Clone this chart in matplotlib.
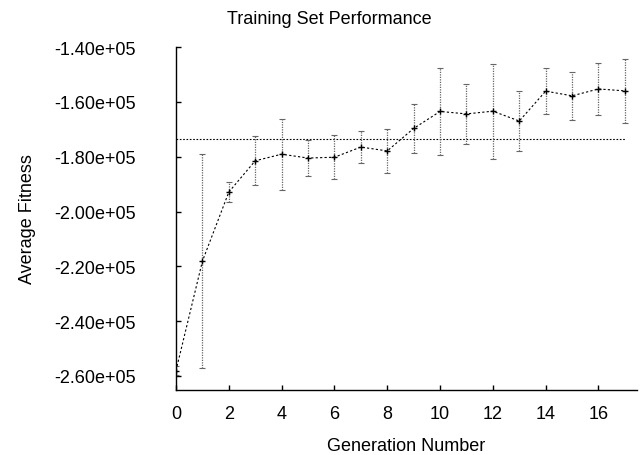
import numpy as np
import matplotlib
matplotlib.use('Agg')
import matplotlib.pyplot as plt
from matplotlib import font_manager
from matplotlib.ticker import FuncFormatter

# pick the regular (not narrow) Liberation Sans file
reg = [f for f in font_manager.findSystemFonts() if f.endswith('LiberationSans-Regular.ttf')]
if reg:
    font_manager.fontManager.addfont(reg[0])
    fam = font_manager.FontProperties(fname=reg[0]).get_name()
else:
    fam = 'DejaVu Sans'
plt.rcParams['font.family'] = [fam, 'DejaVu Sans']
plt.rcParams['axes.unicode_minus'] = False

# data
generation = list(range(18))
avg_fitness = [-2.580e5, -2.181e5, -1.929e5, -1.815e5, -1.791e5, -1.805e5,
               -1.802e5, -1.765e5, -1.779e5, -1.697e5, -1.635e5, -1.644e5,
               -1.634e5, -1.670e5, -1.561e5, -1.578e5, -1.553e5, -1.560e5]
fitness_err = [1500, 39000, 3500, 9000, 13000, 6700, 8000, 5800, 8000, 9000,
               15800, 11000, 17300, 11000, 8500, 8800, 9500, 11800]
baseline = -1.736e5
yticks = [-2.6e5, -2.4e5, -2.2e5, -2.0e5, -1.8e5, -1.6e5, -1.4e5]
xticks = [0, 2, 4, 6, 8, 10, 12, 14, 16]

fs = 13

fig = plt.figure(figsize=(6.41, 4.56), dpi=100)
ax = fig.add_axes([0.2746, 0.1432, 0.7192, 0.7515])

# horizontal reference line
ax.plot([generation[0], generation[-1]], [baseline, baseline], color='black',
        lw=0.8, linestyle=(0, (1.5, 1.5)))

# error bars, dotted grey
eb = ax.errorbar(generation, avg_fitness, yerr=fitness_err, fmt='none',
                 ecolor='#666666', elinewidth=0.9, capsize=2.5, capthick=0.8)
eb[2][0].set_linestyle((0, (1, 1)))

# average line
ax.plot(generation, avg_fitness, color='black', lw=0.8,
        linestyle=(0, (2, 2)), marker='+', markersize=4, markeredgewidth=1)

ax.set_xlim(0, 17.46)
ax.set_ylim(-2.650e5, -1.40e5)
ax.set_xticks(xticks)
ax.set_yticks(yticks)
ax.yaxis.set_major_formatter(FuncFormatter(lambda v, p: '%.2e' % v))

ax.spines['top'].set_visible(False)
ax.spines['right'].set_visible(False)
ax.spines['left'].set_linewidth(1.0)
ax.spines['bottom'].set_linewidth(1.0)
ax.tick_params(axis='both', direction='in', length=3.5, width=1.0,
               labelsize=fs)
ax.tick_params(axis='y', pad=29)
ax.tick_params(axis='x', pad=11)

ax.set_xlabel('Generation Number', fontsize=fs, labelpad=11)
ax.set_ylabel('Average Fitness', fontsize=fs, labelpad=13)
fig.text(329 / 641, 1 - 19 / 456, 'Training Set Performance', fontsize=fs,
         ha='center', va='center')

fig.savefig('out.png', dpi=100)
